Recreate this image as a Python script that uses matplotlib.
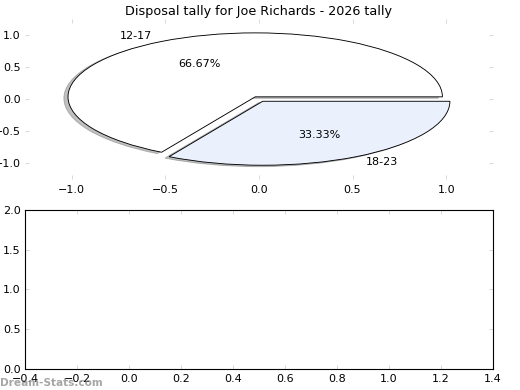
import matplotlib
matplotlib.use('Agg')
import matplotlib.pyplot as plt

# tally per quarter-time bucket
labels = ['12-17', '18-23']
counts = [2, 1]
colors = ['#FFFFFF', '#EAF0FC']
explode = [0.04, 0.04]

title = 'Disposal tally for Joe Richards - 2026 tally'
pie_ticks = [-1.0, -0.5, 0.0, 0.5, 1.0]
empty_xticks = [-0.4, -0.2, 0.0, 0.2, 0.4, 0.6, 0.8, 1.0, 1.2, 1.4]
empty_yticks = [0.0, 0.5, 1.0, 1.5, 2.0]

plt.rcParams.update({
    'font.size': 10,
    'xtick.direction': 'in',
    'ytick.direction': 'in',
    'xtick.top': True,
    'ytick.right': True,
    'xtick.major.size': 4,
    'ytick.major.size': 4,
    'xtick.major.width': 0.5,
    'ytick.major.width': 0.5,
    'xtick.major.pad': 5,
    'ytick.major.pad': 4,
    'axes.linewidth': 1.0,
})

fig = plt.figure(figsize=(6.5, 4.875), dpi=80)
ax1 = fig.add_axes([0.048, 0.541, 0.9, 0.41])
ax2 = fig.add_axes([0.048, 0.054, 0.9, 0.408])

ax1.pie(counts, labels=labels, colors=colors, explode=explode,
        autopct='%1.2f%%', shadow=dict(ox=-0.02, oy=-0.02, alpha=0.35),
        wedgeprops=dict(edgecolor='black', linewidth=0.8))
ax1.set_aspect('auto')
ax1.set_frame_on(False)
ax1.set_xlim(-1.25, 1.25)
ax1.set_ylim(-1.25, 1.25)
ax1.set_xticks(pie_ticks)
ax1.set_yticks(pie_ticks)
ax1.tick_params(color='#bbbbbb')
ax1.set_title(title, fontsize=11.5, pad=4)

ax2.set_xlim(-0.4, 1.4)
ax2.set_ylim(0, 2.0)
ax2.set_xticks(empty_xticks)
ax2.set_yticks(empty_yticks)
ax2.tick_params(color='#bbbbbb')

fig.text(0.0, 0.01, 'Dream-Stats.com', color='gray', alpha=0.7,
         fontsize=9.5, fontweight='bold')

fig.savefig('out.png', dpi=80)
